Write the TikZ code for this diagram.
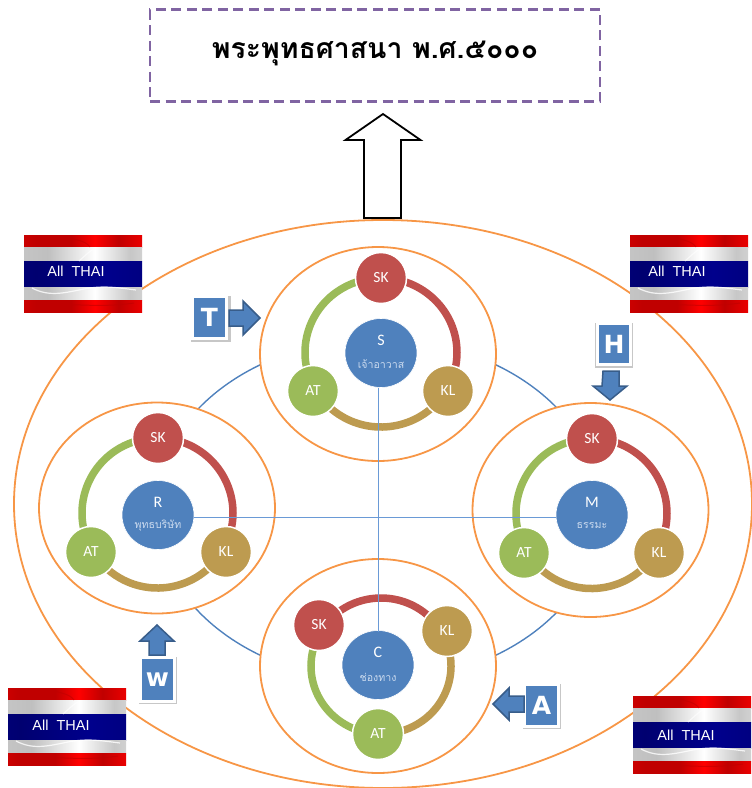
\documentclass[tikz,border=0pt]{standalone}
\usepackage{fontspec}
\setmainfont{Carlito}
\newfontfamily\thaifont[Script=Thai]{Loma}
\newfontfamily\tagfont{DejaVu Sans}
\newfontfamily\flagfont{Liberation Sans}
\usetikzlibrary{shapes.geometric}
\definecolor{ofblue}{HTML}{4F81BD}
\definecolor{ofdark}{HTML}{385D8A}
\definecolor{ofred}{HTML}{C0504D}
\definecolor{ofgreen}{HTML}{9BBB59}
\definecolor{oftan}{HTML}{BD9B50}
\definecolor{oforange}{HTML}{F79646}
\definecolor{ofpurple}{HTML}{8064A2}
\definecolor{linkblue}{HTML}{6A9AD6}
\definecolor{thaitext}{HTML}{C9D9EE}
\definecolor{fr}{HTML}{FF0000}
\definecolor{frd}{HTML}{C00000}
\definecolor{fb}{HTML}{00008C}
\definecolor{fbd}{HTML}{000070}
\pgfdeclarehorizontalshading{flagred}{100bp}{color(0bp)=(fr);color(30bp)=(frd);color(45bp)=(frd);color(55bp)=(fr);color(65bp)=(frd);color(80bp)=(fr);color(100bp)=(fr)}
\pgfdeclarehorizontalshading{flagwhite}{100bp}{color(0bp)=(black!18);color(35bp)=(black!25);color(55bp)=(white);color(70bp)=(black!22);color(85bp)=(black!10);color(100bp)=(black!25)}
\pgfdeclarehorizontalshading{flagblue}{100bp}{color(0bp)=(fb);color(30bp)=(fbd);color(60bp)=(fb);color(100bp)=(fbd)}
\tikzset{
  bigring/.style={draw=oforange,line width=1.8pt,fill=white},
  linkring/.style={draw=ofblue,line width=1.4pt},
  crossline/.style={draw=linkblue,line width=1pt},
  arcline/.style={line width=7.5pt},
  minor/.style={circle,minimum size=51pt,inner sep=0pt,draw=white,line width=1.5pt,text=white,font=\fontsize{15.5}{17}\selectfont},
  core/.style={ellipse,minimum width=72pt,minimum height=69pt,inner sep=0pt,fill=ofblue,draw=white,line width=.6pt},
  corelabel/.style={text=white,inner sep=0pt,font=\fontsize{16}{18}\selectfont},
  corethai/.style={text=thaitext,inner sep=0pt,font=\thaifont\fontsize{10.6}{13}\selectfont},
  tagbox/.style={rectangle,draw=white,line width=3pt,fill=ofblue,text=white,inner sep=0pt,font=\tagfont\bfseries\fontsize{25}{28}\selectfont},
  tagshadow/.style={fill=black!22},
  blockarrow/.style={fill=ofblue,draw=ofdark,line width=1.5pt,line join=miter},
  flagtext/.style={text=white,inner sep=0pt,font=\flagfont\fontsize{14.5}{16}\selectfont}
}
% ring of three arcs: centre, radii, angles of SK, KL, AT (clockwise)
\newcommand\ringarcs[7]{%
  \draw[arcline,ofred] (#1,#2) ++(#5:#3pt and #4pt) arc[start angle=#5,end angle=#6,x radius=#3pt,y radius=#4pt];
  \draw[arcline,oftan] (#1,#2) ++(#6:#3pt and #4pt) arc[start angle=#6,end angle=#7,x radius=#3pt,y radius=#4pt];
  \pgfmathsetmacro\angend{#5-360}%
  \draw[arcline,ofgreen] (#1,#2) ++(#7:#3pt and #4pt) arc[start angle=#7,end angle=\angend,x radius=#3pt,y radius=#4pt];
}
\newcommand\flagpic[5]{% name, x, y, text x, text y offset
  \begin{scope}[shift={(#2,#3)}]
    \shade[shading=flagred] (0,0) rectangle (118,-12.5);
    \shade[shading=flagwhite] (0,-12.5) rectangle (118,-26);
    \shade[shading=flagblue] (0,-26) rectangle (118,-52);
    \shade[shading=flagwhite] (0,-52) rectangle (118,-65);
    \shade[shading=flagred] (0,-65) rectangle (118,-77);
    \begin{scope}
      \clip (0,0) rectangle (118,-77);
      \draw[white,line width=1.2pt,opacity=.6] (55,-26) .. controls (64,-18) and (66,-16) .. (72,-12.5);
      \draw[white,line width=1.2pt,opacity=.8] (8,-53) .. controls (25,-62) and (40,-58) .. (60,-54) .. controls (80,-50) and (95,-53) .. (112,-55);
      \draw[frd,line width=1pt,opacity=.6] (15,-72) .. controls (40,-66) and (70,-74) .. (110,-68);
      \draw[frd,line width=1pt,opacity=.6] (40,0) .. controls (50,-6) and (60,-4) .. (66,-12);
    \end{scope}
    \node[flagtext] (#1) at (#4,#5) {All\ \ THAI};
  \end{scope}
}
\begin{document}
\begin{tikzpicture}[x=1pt,y=1pt]
\useasboundingbox (0,0) rectangle (752,-788);

% title
\node[draw=ofpurple,line width=2.4pt,dash pattern=on 10pt off 5.5pt,minimum width=450pt,minimum height=92pt,inner sep=0pt] (title) at (375,-55.5) {};
\node[inner sep=0pt,font=\thaifont\bfseries\fontsize{28.4}{32}\selectfont] (titletext) at (375,-53) {พระพุทธศาสนา พ.ศ.๕๐๐๐};

% outer ellipse
\node[ellipse,draw=oforange,line width=1.8pt,minimum width=738pt,minimum height=568pt,inner sep=0pt] (outer) at (383,-504) {};

% up arrow
\draw[black,line width=1.8pt,fill=white,line join=miter] (364,-218) -- (364,-140) -- (345.5,-140) -- (383,-114) -- (420.5,-140) -- (401,-140) -- (401,-218) -- cycle;

% link ring
\node[ellipse,linkring,minimum width=446pt,minimum height=342pt,inner sep=0pt] (link) at (378,-510) {};

% group ellipses
\node[ellipse,bigring,minimum width=236pt,minimum height=214pt,inner sep=0pt] (gtop) at (378,-354) {};
\node[ellipse,bigring,minimum width=236pt,minimum height=211pt,inner sep=0pt] (gleft) at (157,-508) {};
\node[ellipse,bigring,minimum width=236pt,minimum height=214pt,inner sep=0pt] (gright) at (590.5,-510) {};
\node[ellipse,bigring,minimum width=236pt,minimum height=214pt,inner sep=0pt] (gbottom) at (378,-666) {};

% arcs
\ringarcs{381}{-352.5}{76}{74.5}{90}{-30}{-150}
\ringarcs{157.5}{-513}{75.5}{75}{90}{-30}{-150}
\ringarcs{591.5}{-513.5}{75.5}{75}{90}{-30}{-150}
\ringarcs{381}{-666}{70}{68}{146}{28}{-93}

% core circles
\node[core] (S) at (381,-353) {};
\node[core] (R) at (158,-515) {};
\node[core] (M) at (592,-515) {};
\node[core] (C) at (378,-665) {};

% cross lines
\draw[crossline] (378,-388) -- (378,-632);
\draw[crossline] (R.east |- 0,-517) -- (M.west |- 0,-517);

% top
\node[minor,fill=ofred] (sk1) at (381,-278) {SK};
\node[minor,fill=oftan] (kl1) at (448,-391) {KL};
\node[minor,fill=ofgreen] (at1) at (313,-391) {AT};
\node[corelabel] (s1) at (381,-340) {S};
\node[corethai] (s2) at (381,-364) {เจ้าอาวาส};
% left
\node[minor,fill=ofred] (sk2) at (158,-438) {SK};
\node[minor,fill=oftan] (kl2) at (226,-552) {KL};
\node[minor,fill=ofgreen] (at2) at (91,-552) {AT};
\node[corelabel] (r1) at (158,-502) {R};
\node[corethai] (r2) at (158,-526) {พุทธบริษัท};
% right
\node[minor,fill=ofred] (sk3) at (592,-439) {SK};
\node[minor,fill=oftan] (kl3) at (659,-553) {KL};
\node[minor,fill=ofgreen] (at3) at (524,-553) {AT};
\node[corelabel] (m1) at (592,-502) {M};
\node[corethai] (m2) at (592,-526) {ธรรมะ};
% bottom
\node[minor,fill=ofred] (sk4) at (319,-625) {SK};
\node[minor,fill=oftan] (kl4) at (447,-631) {KL};
\node[minor,fill=ofgreen] (at4) at (378,-734) {AT};
\node[corelabel] (c1) at (378,-652) {C};
\node[corethai] (c2) at (378,-677) {ช่องทาง};

% tags and block arrows
\fill[tagshadow] (191,-296) rectangle (230.5,-341.5);
\node[tagbox,minimum width=34pt,minimum height=42pt] (T) at (209.5,-317.5) {T};
\draw[blockarrow] (229,-310) -- (243,-310) -- (243,-301) -- (260,-318) -- (243,-335) -- (243,-326) -- (229,-326) -- cycle;

\fill[tagshadow] (595,-323) rectangle (633,-367.5);
\node[tagbox,minimum width=33pt,minimum height=41pt] (H) at (614,-344) {H};
\draw[blockarrow] (603,-371) -- (619,-371) -- (619,-386) -- (627,-386) -- (610,-400) -- (593,-386) -- (602,-386) -- cycle;

\fill[tagshadow] (138.5,-657) rectangle (176.5,-704);
\node[tagbox,minimum width=34pt,minimum height=44pt] (W) at (157.5,-679.5) {w};
\draw[blockarrow] (149,-655) -- (149,-641) -- (140,-641) -- (157,-625) -- (174,-641) -- (165,-641) -- (165,-655) -- cycle;

\fill[tagshadow] (522.5,-684) rectangle (560.5,-729);
\node[tagbox,minimum width=34pt,minimum height=42pt] (A) at (541.5,-705) {A};
\draw[blockarrow] (524,-696) -- (509,-696) -- (509,-688) -- (493,-704) -- (509,-720) -- (509,-712) -- (524,-712) -- cycle;

% flags
\flagpic{flagA}{24}{-235}{52}{-36}
\flagpic{flagB}{630}{-235}{47}{-36}
\flagpic{flagC}{8}{-688}{53}{-37}
\flagpic{flagD}{633}{-696}{53}{-39}
\end{tikzpicture}
\end{document}
